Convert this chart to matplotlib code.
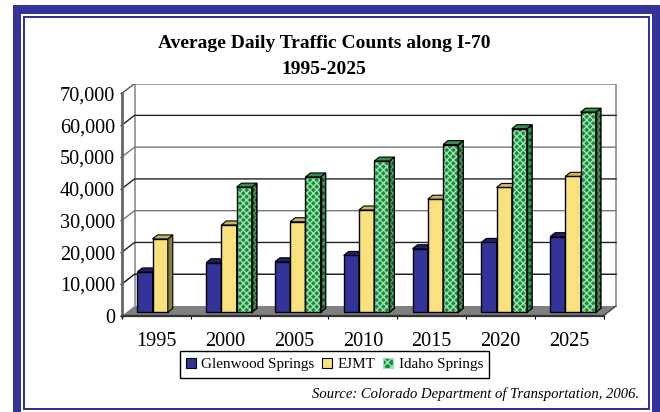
import numpy as np
import matplotlib
matplotlib.use("Agg")
import matplotlib.pyplot as plt
from matplotlib.patches import Polygon, Rectangle, Patch

# --- chart data ---
YEARS = ["1995", "2000", "2005", "2010", "2015", "2020", "2025"]
GLENWOOD = [12.7, 15.6, 15.9, 17.9, 20.0, 22.0, 23.8]
EJMT = [23.1, 27.5, 28.5, 32.2, 35.6, 39.3, 42.8]
IDAHO = [None, 39.4, 42.6, 47.6, 52.8, 57.8, 63.0]
Y_TICKS = [0, 10, 20, 30, 40, 50, 60, 70]
Y_LABELS = ["0", "10,000", "20,000", "30,000", "40,000", "50,000", "60,000", "70,000"]
SERIES_NAMES = ["Glenwood Springs", "EJMT", "Idaho Springs"]

W, H = 660, 412
BLUE = "#333399"
YELLOW = "#f9e27d"
GREEN = "#11903c"
LIGHT_GREEN = "#a4deae"

plt.rcParams["font.family"] = ["Liberation Serif", "DejaVu Serif"]
plt.rcParams["hatch.linewidth"] = 1.0

fig = plt.figure(figsize=(W / 100, H / 100), dpi=100, facecolor="white")


def frame(x0, y0, x1, y1, color="white"):
    # pixel box, y from the top of the image
    fig.add_artist(Rectangle((x0 / W, 1 - y1 / H), (x1 - x0) / W, (y1 - y0) / H,
                             transform=fig.transFigure, fc=color, ec="none", zorder=-5))


# blue double border
frame(13, 5, 660, 412, BLUE)
frame(21, 14, 652, 412, "white")
frame(23, 16, 650, 409.5, BLUE)
frame(25, 18, 648, 407.5, "white")

# axes run from the front left corner to the back right corner of the box
PX_X = 68.8    # px per category
PX_Y = 3.177   # px per 1000
ax = fig.add_axes([122 / W, 1 - 315.7 / H, (616.7 - 122) / W, (315.7 - 84) / H])
ax.set_xlim(0, (616.7 - 122) / PX_X)
ax.set_ylim(0, (315.7 - 84) / PX_Y)
ax.patch.set_alpha(0)
for s in ax.spines.values():
    s.set_visible(False)

DX = 12.5 / PX_X   # depth of the box
DY = 9.7 / PX_Y
n = len(YEARS)

# floor
ax.add_patch(Polygon([(0, 0), (n, 0), (n + DX, DY), (DX, DY)], fc="#7f7f7f", ec="none", zorder=1))

# back wall and side wall
ax.plot([DX, DX, n + DX, n + DX], [DY, 70 + DY, 70 + DY, DY], color="#8c8c8c", lw=1.2, zorder=1.5)
ax.plot([0, 0], [0, 70], color="#666666", lw=2, zorder=2, clip_on=False)
GRID_COLORS = ["#111111", "#222222", "#777777", "#222222", "#777777", "#222222"]
for v, c in zip(Y_TICKS[1:7], GRID_COLORS):
    ax.plot([0, DX, n + DX], [v, v + DY, v + DY], color=c, lw=1, zorder=1.5)
ax.plot([0, DX], [70, 70 + DY], color="#555555", lw=1, zorder=1.5)

# front axis + ticks
ax.plot([0, n], [0, 0], color="#333333", lw=1.6, zorder=2, clip_on=False)
ax.plot([n, n + DX], [0, DY], color="#333333", lw=0.8, zorder=2)
ax.set_xticks(np.arange(n + 1))
ax.set_xticklabels([])
ax.set_xticks(np.arange(n) + 0.5, YEARS, minor=True)
ax.set_yticks(Y_TICKS, Y_LABELS)
ax.tick_params(axis="x", which="major", length=2.4, width=0.8, color="black", direction="out")
ax.tick_params(axis="x", which="minor", length=0, pad=11.5, labelsize=14.6)
ax.tick_params(axis="y", length=1.5, width=0.8, color="black", pad=3.5, labelsize=14.6)

# bars
BAR_W = 15.25 / PX_X
GROUP_OFF = 15.3 / PX_X
BAR_Z0 = 3.4 / PX_Y     # bar bottoms sit a little in from the front edge
SIDE_X = 5 / PX_X
SIDE_Y = 4 / PX_Y
TOPS = {BLUE: "#1f1f70", YELLOW: "#c9b35e", GREEN: "#3c8a4e"}
SIDES = {BLUE: "#1b1b60", YELLOW: "#8a7c3c", GREEN: "#0e5c28"}


def draw_bar(x, val, color, z):
    y0 = BAR_Z0
    top = y0 + val
    if color == GREEN:
        ax.bar(x, val, BAR_W, y0, align="edge", fc=GREEN, ec=LIGHT_GREEN, hatch="xxxxx", lw=0, zorder=z)
        ax.bar(x, val, BAR_W, y0, align="edge", fc="none", ec="black", lw=1, zorder=z + 0.1)
    else:
        ax.bar(x, val, BAR_W, y0, align="edge", fc=color, ec="black", lw=1, zorder=z)
    r = x + BAR_W
    side = [(r, y0), (r + SIDE_X, y0 + SIDE_Y), (r + SIDE_X, top + SIDE_Y), (r, top)]
    ax.add_patch(Polygon(side, fc=SIDES[color], ec="black", lw=0.8, zorder=z))
    if color == GREEN:
        ax.add_patch(Polygon(side, fc="none", ec="#4f9a63", hatch="xxxxx", lw=0, zorder=z))
        ax.add_patch(Polygon(side, fc="none", ec="black", lw=0.8, zorder=z))
    ax.add_patch(Polygon([(x, top), (r, top), (r + SIDE_X, top + SIDE_Y), (x + SIDE_X, top + SIDE_Y)],
                         fc=TOPS[color], ec="black", lw=0.8, zorder=z))


z = 3
for i in range(n):
    x0 = i + GROUP_OFF
    for j, (vals, col) in enumerate([(GLENWOOD, BLUE), (EJMT, YELLOW), (IDAHO, GREEN)]):
        if vals[i] is not None:
            draw_bar(x0 + j * BAR_W, vals[i], col, z)
        z += 1

# title + source
fig.text(324 / W, 1 - 44 / H, "Average Daily Traffic Counts along I-70", ha="center", va="center",
         fontsize=14, fontweight="bold")
fig.text(324 / W, 1 - 69.5 / H, "1995-2025", ha="center", va="center", fontsize=14, fontweight="bold")
fig.text(639 / W, 1 - 394.5 / H, "Source: Colorado Department of Transportation, 2006.", ha="right", va="center",
         fontsize=10.5, fontstyle="italic")

# legend
handles = [Patch(fc=BLUE, ec="black", lw=0.8),
           Patch(fc=YELLOW, ec="black", lw=0.8),
           Patch(fc=GREEN, ec=LIGHT_GREEN, hatch="xxxx", lw=0.8)]
leg = fig.legend(handles, SERIES_NAMES, loc="center", bbox_to_anchor=(334.5 / W, 1 - 364.5 / H), ncol=3,
                 fontsize=10.9, frameon=True, fancybox=False, edgecolor="black", framealpha=1,
                 handlelength=0.66, handleheight=0.66, handletextpad=0.36, columnspacing=0.5,
                 borderpad=0.42, borderaxespad=0)
leg.get_frame().set_linewidth(1)

plt.savefig("out.png", dpi=100)
